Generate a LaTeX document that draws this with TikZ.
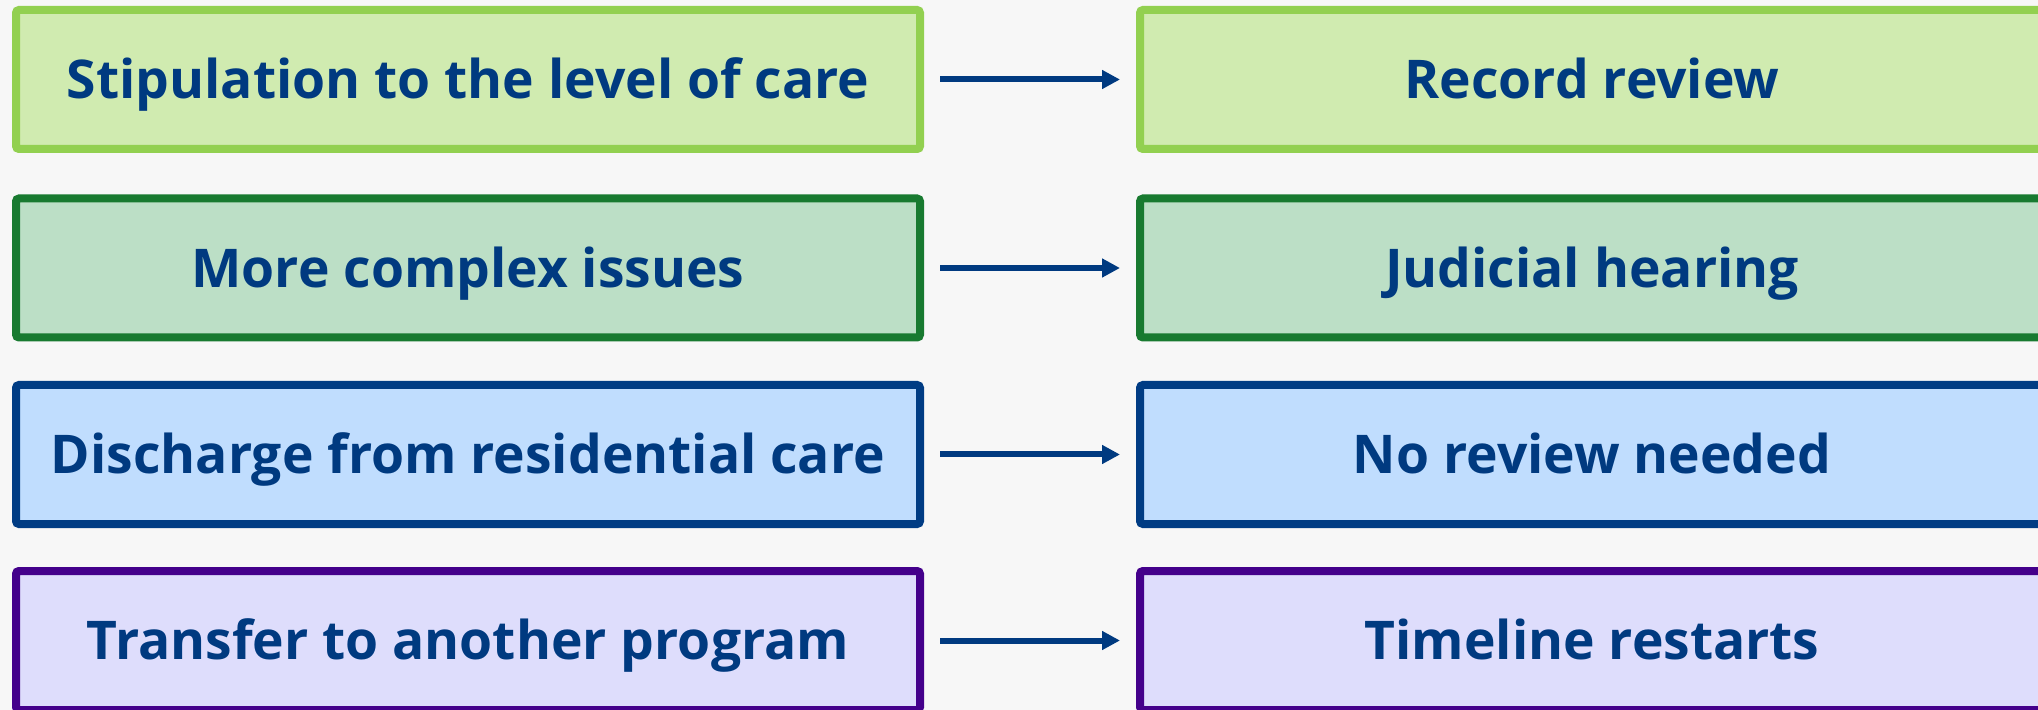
\documentclass[tikz,border=0pt]{standalone}
\usepackage{fontspec}
\setmainfont{Open Sans}
\usepackage{xcolor}
\usetikzlibrary{arrows.meta,positioning}

\definecolor{bgc}{HTML}{F7F7F7}
\definecolor{ink}{HTML}{003A80}
\definecolor{limeline}{HTML}{92D050}
\definecolor{limefill}{HTML}{D0EBB0}
\definecolor{forestline}{HTML}{187A30}
\definecolor{forestfill}{HTML}{BCDFC6}
\definecolor{skyline}{HTML}{003C84}
\definecolor{skyfill}{HTML}{C0DDFE}
\definecolor{lilacline}{HTML}{44008B}
\definecolor{lilacfill}{HTML}{DEDDFC}

\begin{document}
\begin{tikzpicture}[
  x=0.5pt, y=-0.5pt,
  box/.style={draw, rounded corners=1.5pt, line width=4pt, align=center, minimum width=452pt, minimum height=69.5pt, inner sep=0pt, text height=19.1pt, text depth=0pt, text=ink, font=\fontsize{26.7}{32}\selectfont\bfseries},
  lime/.style={box, draw=limeline, fill=limefill},
  forest/.style={box, draw=forestline, fill=forestfill},
  sky/.style={box, draw=skyline, fill=skyfill},
  lilac/.style={box, draw=lilacline, fill=lilacfill},
  arr/.style={-{Triangle[length=9pt, width=9pt]}, line width=3pt, draw=ink, shorten <=8pt, shorten >=8pt}
]
\fill[bgc] (0,0) rectangle (2038,710);
\useasboundingbox (0,0) rectangle (2038,710);
\clip (0,0) rectangle (2038,710);
\node[lime] (stip) at (468, 79.5) {Stipulation to the level of care};
\node[lime] (record) at (1592, 79.5) {Record review};
\node[forest] (complex) at (468, 268) {More complex issues};
\node[forest] (hearing) at (1592, 268) {Judicial hearing};
\node[sky] (discharge) at (468, 454.5) {Discharge from residential care};
\node[sky] (noreview) at (1592, 454.5) {No review needed};
\node[lilac] (transfer) at (468, 640.5) {Transfer to another program};
\node[lilac] (restart) at (1592, 640.5) {Timeline restarts};
\draw[arr] (stip) -- (record);
\draw[arr] (complex) -- (hearing);
\draw[arr] (discharge) -- (noreview);
\draw[arr] (transfer) -- (restart);
\end{tikzpicture}
\end{document}
